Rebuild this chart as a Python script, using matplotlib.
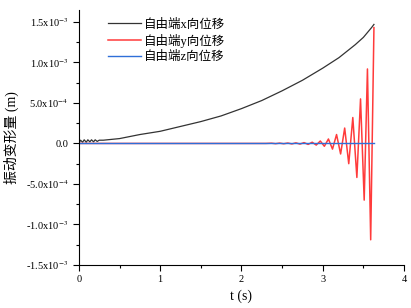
import matplotlib
matplotlib.use('Agg')
import matplotlib.pyplot as plt
from matplotlib.ticker import MultipleLocator, FuncFormatter
import numpy as np

plt.rcParams['font.family'] = ['Liberation Serif', 'Noto Sans CJK SC']
plt.rcParams['mathtext.fontset'] = 'stix'

# free-end displacement in x (units of 1e-3 m)
t_x = [0, 0.02, 0.045, 0.065, 0.09, 0.11, 0.135, 0.155, 0.18, 0.2, 0.225, 0.25,
       0.3, 0.4, 0.5, 0.75, 1.0, 1.25, 1.5, 1.75, 2.0, 2.25, 2.5, 2.75, 3.0,
       3.2, 3.4, 3.5, 3.55, 3.6, 3.63]
d_x = [0, 0.04, 0.015, 0.045, 0.015, 0.045, 0.02, 0.045, 0.02, 0.045, 0.025, 0.04,
       0.04, 0.05, 0.06, 0.11, 0.15, 0.21, 0.27, 0.34, 0.43, 0.53, 0.65, 0.78, 0.93,
       1.06, 1.22, 1.31, 1.37, 1.43, 1.47]

# free-end displacement in y
t_y = [0, 2.3, 2.37, 2.42, 2.47, 2.52, 2.57, 2.62, 2.67, 2.72, 2.77, 2.82, 2.87,
       2.92, 2.97, 3.02, 3.07, 3.12, 3.17, 3.22, 3.27, 3.32, 3.37, 3.42, 3.465,
       3.51, 3.55, 3.59, 3.63]
d_y = [0, 0, 0.003, -0.003, 0.004, -0.004, 0.005, -0.006, 0.007, -0.008, 0.01, -0.012, 0.015,
       -0.02, 0.03, -0.035, 0.055, -0.07, 0.11, -0.13, 0.19, -0.25, 0.32, -0.42, 0.55,
       -0.70, 0.92, -1.19, 1.43]

# free-end displacement in z
t_z = [0, 3.63]
d_z = [0, 0]

labels = ['自由端x向位移', '自由端y向位移', '自由端z向位移']
colors = ['#333333', '#ff3b3b', '#2f6fd8']

fig = plt.figure(figsize=(4.11, 3.08), dpi=100)
ax = fig.add_axes([0.192, 0.14, 0.791, 0.828])

ax.plot(t_x, np.array(d_x) * 1e-3, color=colors[0], lw=0.9, label=labels[0])
ax.plot(t_y, np.array(d_y) * 1e-3, color=colors[1], lw=1.1, label=labels[1])
ax.plot(t_z, np.array(d_z) * 1e-3, color=colors[2], lw=1.0, label=labels[2])

ax.set_xlim(0, 4)
ax.set_ylim(-1.5e-3, 1.65e-3)
ax.xaxis.set_major_locator(MultipleLocator(1))
ax.xaxis.set_minor_locator(MultipleLocator(0.5))
ax.yaxis.set_major_locator(MultipleLocator(5e-4))
ax.yaxis.set_minor_locator(MultipleLocator(2.5e-4))

def fmt(v, pos):
    if abs(v) < 1e-12:
        return '0.0'
    e = int(np.floor(np.log10(abs(v)) + 1e-9))
    m = v / 10 ** e
    return '%.1fx10$^{%d}$' % (m, e)

ax.yaxis.set_major_formatter(FuncFormatter(fmt))

for s in ['top', 'right']:
    ax.spines[s].set_visible(False)
ax.tick_params(which='both', direction='out', labelsize=7.5, width=0.8)
ax.tick_params(which='major', length=4)
ax.tick_params(which='minor', length=2)

ax.set_xlabel('t (s)', fontsize=10)
ax.set_ylabel('振动变形量 (m)', fontsize=10, labelpad=5)

ax.legend(loc='upper left', bbox_to_anchor=(0.055, 1.01), frameon=False,
          fontsize=9, handlelength=2.6, labelspacing=0.25, handletextpad=0.3)

fig.savefig('out.png', dpi=100)
